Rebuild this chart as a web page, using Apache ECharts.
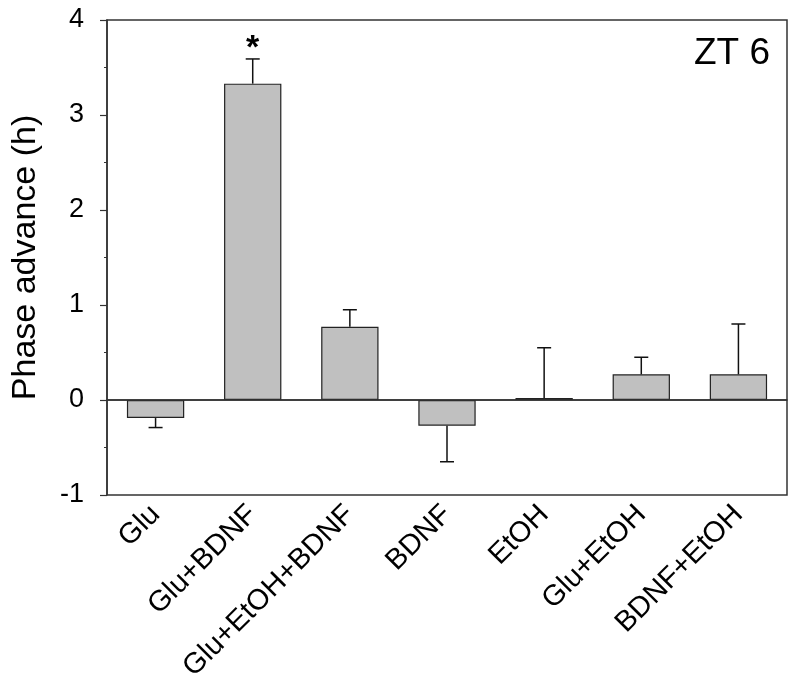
<!DOCTYPE html>
<html><head><meta charset="utf-8">
<script src="https://cdn.jsdelivr.net/npm/echarts@6/dist/echarts.min.js"></script>
<style>html,body{margin:0;padding:0;background:#fff}#c{width:800px;height:692px}</style>
</head><body><div id="c"></div>
<script>
const categories = ['Glu','Glu+BDNF','Glu+EtOH+BDNF','BDNF','EtOH','Glu+EtOH','BDNF+EtOH'];
const means = [-0.19, 3.33, 0.77, -0.27, 0.02, 0.27, 0.27];
const sems = [0.10, 0.26, 0.18, 0.38, 0.53, 0.18, 0.53];
const marks = ['', '*', '', '', '', '', ''];
const yTicks = [-1, 0, 1, 2, 3, 4];

const FONT = 'Liberation Sans, Arial, sans-serif';
const chart = echarts.init(document.getElementById('c'), null, {renderer: 'canvas'});
chart.setOption({
  animation: false,
  title: {text: 'ZT 6', right: 25, top: 30, textStyle: {fontFamily: FONT, fontSize: 37, fontWeight: 'normal', color: '#000'}},
  grid: {left: 107, right: 13, top: 20, bottom: 197, show: true, borderColor: '#333', borderWidth: 1.5, backgroundColor: 'transparent'},
  xAxis: {
    type: 'category', data: categories,
    axisLine: {show: true, lineStyle: {color: '#333', width: 1.5}},
    axisTick: {show: false},
    axisLabel: {rotate: 45, fontFamily: FONT, fontSize: 29, color: '#000', margin: 15, interval: 0}
  },
  yAxis: {
    type: 'value', min: yTicks[0], max: yTicks[yTicks.length - 1], interval: 1,
    name: 'Phase advance (h)', nameLocation: 'middle', nameGap: 64, nameRotate: 90,
    nameTextStyle: {fontFamily: FONT, fontSize: 34, color: '#000'},
    axisLine: {show: true, lineStyle: {color: '#333', width: 1.5}},
    axisTick: {show: true, inside: false, length: 7, lineStyle: {color: '#333', width: 1.2}},
    minorTick: {show: true, splitNumber: 2, length: 3, lineStyle: {color: '#333', width: 1}},
    axisLabel: {fontFamily: FONT, fontSize: 27, color: '#000', margin: 23, formatter: v => String(v)},
    splitLine: {show: false}
  },
  series: [
    {
      type: 'bar', data: means, barWidth: '59%',
      itemStyle: {color: '#c0c0c0', borderColor: '#222', borderWidth: 1.2},
      markLine: {silent: true, symbol: 'none', label: {show: false},
        lineStyle: {color: '#333', width: 1.5, type: 'solid'}, data: [{yAxis: 0}]},
      z: 2
    },
    {
      type: 'custom', z: 3,
      data: means.map((m, i) => [i, m, sems[i]]),
      renderItem: function (params, api) {
        const i = api.value(0), m = api.value(1), s = api.value(2);
        const mk = marks[i];
        const end = m >= 0 ? m + s : m - s;
        const p0 = api.coord([i, m]);
        const p1 = api.coord([i, end]);
        const cw = 7;
        const children = [
          {type: 'line', shape: {x1: p0[0], y1: p0[1], x2: p1[0], y2: p1[1]}, style: {stroke: '#111', lineWidth: 1.5}},
          {type: 'line', shape: {x1: p1[0] - cw, y1: p1[1], x2: p1[0] + cw, y2: p1[1]}, style: {stroke: '#111', lineWidth: 1.5}}
        ];
        if (mk) {
          children.push({type: 'text', x: p1[0], y: p1[1] - 10,
            style: {text: mk, fontFamily: FONT, fontSize: 34, fontWeight: 'bold', fill: '#000', align: 'center', verticalAlign: 'middle'}});
        }
        return {type: 'group', children};
      }
    }
  ]
});
</script></body></html>
